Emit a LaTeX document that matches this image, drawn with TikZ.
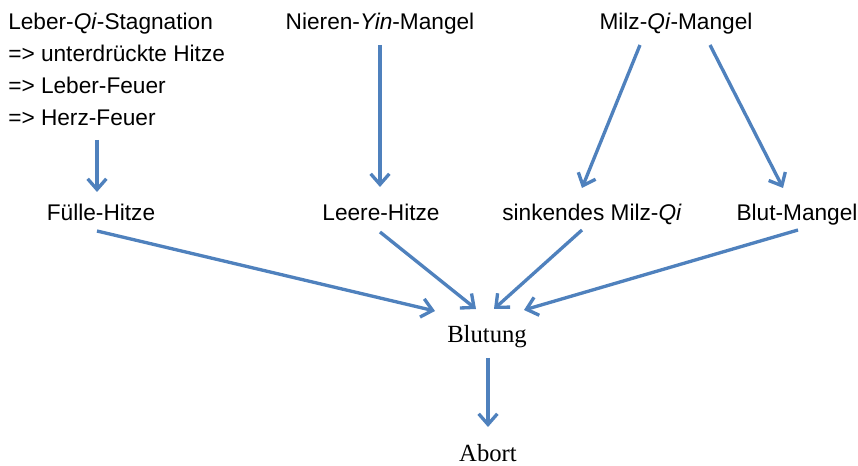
\documentclass[tikz,border=0pt]{standalone}
\usepackage{fontspec}
\setmainfont{Liberation Sans}
\newfontfamily\timesfont{Liberation Serif}
\usepackage{tikz}
\usetikzlibrary{arrows.meta}
\usetikzlibrary{calc}
\definecolor{pfeilblau}{RGB}{79,129,189}
\tikzstyle{befund}=[inner sep=0pt,anchor=base,font=\fontsize{17}{24}\selectfont]
\tikzstyle{folge}=[inner sep=0pt,anchor=base,font=\timesfont\fontsize{18.5}{22}\selectfont]
\tikzstyle{pfeil} = [draw,pfeilblau,line width=2.5pt,-{Straight Barb[length=8pt,width=14pt]}]

\begin{document}
\begin{tikzpicture}[x=0.75pt,y=-0.75pt]
    \useasboundingbox (0,0) rectangle (858,466);

    \node[befund,anchor=north west,align=left] (leber) at (8,13)
        {Leber-\textit{Qi}-Stagnation\\=> unterdrückte Hitze\\=> Leber-Feuer\\=> Herz-Feuer};

    \foreach \pos/\name/\beschr in {{(380,30)/nieren/Nieren-\textit{Yin}-Mangel}, {(676,30)/milz/Milz-\textit{Qi}-Mangel},
        {(101,221)/fuelle/Fülle-Hitze}, {(381,221)/leere/Leere-Hitze}, {(592,221)/sinkend/sinkendes Milz-\textit{Qi}}, {(797,221)/blut/Blut-Mangel}}
        \node[befund] (\name) at \pos {\beschr};

    \foreach \pos/\name/\beschr in {{(487,343)/blutung/Blutung}, {(488,462)/abort/Abort}}
        \node[folge] (\name) at \pos {\beschr};

    % Pfeile: Quelle mit Versatz -> Ziel mit Versatz
    \draw[pfeil] ($(leber.north west)+(89,127)$) -- ($(fuelle.base)+(-4,-29)$);
    \foreach \source/\sx/\sy/\dest/\dx/\dy in {nieren/0/15/leere/-1/-34, milz/-36/15/sinkend/-10/-33, milz/34/15/blut/-14/-33,
        fuelle/-4/10/blutung/-52/-32, leere/-1/11/blutung/-11/-34, sinkend/-10/9/blutung/7/-34, blut/1/9/blutung/37/-33,
        blutung/1/15/abort/0/-35}
        \draw[pfeil] ($(\source.base)+(\sx,\sy)$) -- ($(\dest.base)+(\dx,\dy)$);

\end{tikzpicture}
\end{document}
